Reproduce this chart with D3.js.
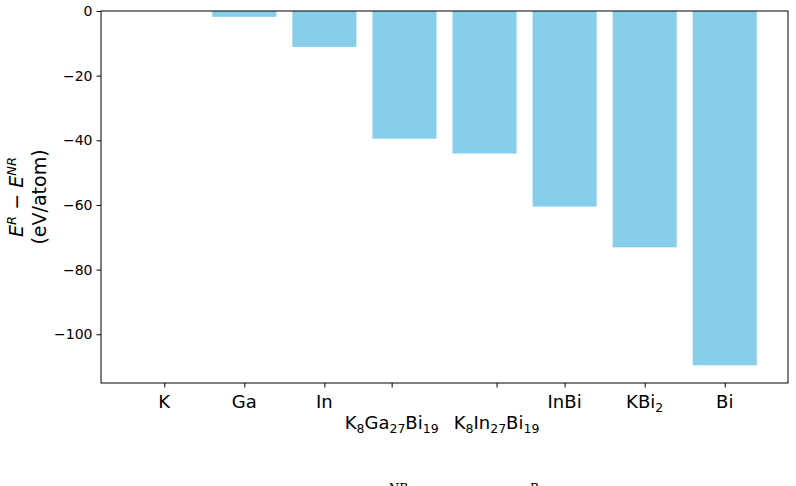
<!DOCTYPE html>
<html>
<head>
<meta charset="utf-8">
<script src="https://cdn.jsdelivr.net/npm/d3@7"></script>
<style>
  body { margin: 0; background: #fff; }
  svg { display: block; font-family: "DejaVu Sans", sans-serif; }
</style>
</head>
<body>
<div id="chart"></div>
<script>
// compounds, in plotting order
const materials = ["K", "Ga", "In", "K8Ga27Bi19", "K8In27Bi19", "InBi", "KBi2", "Bi"];
// E^R - E^NR per atom (eV/atom)
const deltaE = [0, -1.8, -11.1, -39.5, -44.1, -60.5, -73.1, -109.6];
// label pieces: [text, "sub" | ""]
const labelParts = [
  [["K", ""]],
  [["Ga", ""]],
  [["In", ""]],
  [["K", ""], ["8", "sub"], ["Ga", ""], ["27", "sub"], ["Bi", ""], ["19", "sub"]],
  [["K", ""], ["8", "sub"], ["In", ""], ["27", "sub"], ["Bi", ""], ["19", "sub"]],
  [["InBi", ""]],
  [["K", ""], ["Bi", ""], ["2", "sub"]],
  [["Bi", ""]]
];
// long labels were nudged sideways and put on a second row
const tickShift = [0, 0, 0, -0.16, 0.15, 0, 0, 0];
const labelRow = [0, 0, 0, 1, 1, 0, 0, 0];
const yTicks = [0, -20, -40, -60, -80, -100];

const width = 796, height = 486;
const margin = {top: 11, right: 8, bottom: 103, left: 101};
const iw = width - margin.left - margin.right;
const ih = height - margin.top - margin.bottom;

const svg = d3.select("#chart").append("svg")
  .attr("width", width).attr("height", height);
const g = svg.append("g").attr("transform", `translate(${margin.left},${margin.top})`);

// matplotlib-like linear x: bar i centred at i, 5% margins
const n = materials.length;
const pad = (n - 1 + 0.8) * 0.05;
const x = d3.scaleLinear().domain([-0.4 - pad, n - 1 + 0.4 + pad]).range([0, iw]);
const yMin = d3.min(deltaE) * 1.05;
const y = d3.scaleLinear().domain([yMin, 0]).range([ih, 0]);

// bars
g.selectAll("rect.bar")
  .data(deltaE)
  .join("rect")
    .attr("class", "bar")
    .attr("x", (d, i) => x(i - 0.4))
    .attr("width", x(0.8) - x(0))
    .attr("y", y(0))
    .attr("height", d => y(d) - y(0))
    .attr("fill", "#87ceeb");

// y axis
const yAxis = g.append("g")
  .call(d3.axisLeft(y).tickValues(yTicks).tickSize(4.5).tickPadding(4)
    .tickFormat(d => d === 0 ? "0" : "\u2212" + Math.abs(d)));
yAxis.select(".domain").remove();
yAxis.selectAll("line").attr("stroke", "#000").attr("stroke-width", 1);
yAxis.selectAll("text").attr("font-size", 14).attr("fill", "#000")
  .attr("font-family", "DejaVu Sans");

// x ticks
const xTickPos = materials.map((m, i) => i + tickShift[i]);
const xAxis = g.append("g").attr("transform", `translate(0,${ih})`)
  .call(d3.axisBottom(x).tickValues(xTickPos).tickSize(4.5).tickFormat(""));
xAxis.select(".domain").remove();
xAxis.selectAll("line").attr("stroke", "#000").attr("stroke-width", 1);

const xl = g.append("g").attr("font-size", 18).attr("text-anchor", "middle");
labelParts.forEach((parts, i) => {
  const t = xl.append("text")
    .attr("x", x(xTickPos[i]))
    .attr("y", ih + 25 + labelRow[i] * 21);
  parts.forEach(([s, kind], k) => {
    const prev = k > 0 ? parts[k - 1][1] : "";
    const sp = t.append("tspan").text(s);
    if (kind === "sub") sp.attr("font-size", 12.5).attr("dy", prev === "sub" ? 0 : 4);
    else if (prev === "sub") sp.attr("dy", -4);
  });
});

// frame
g.append("rect")
  .attr("width", iw).attr("height", ih)
  .attr("fill", "none").attr("stroke", "#000").attr("stroke-width", 1);

// y label, two lines
const yl = svg.append("g").attr("font-size", 19).attr("text-anchor", "middle")
  .attr("transform", `translate(0,${margin.top + ih / 2}) rotate(-90)`);
const l1 = yl.append("text").attr("x", 0).attr("y", 23);
l1.append("tspan").attr("font-style", "italic").text("E");
l1.append("tspan").attr("font-size", 13).attr("dy", -7).attr("font-style", "italic").text("R");
l1.append("tspan").attr("dy", 7).text(" \u2212 ");
l1.append("tspan").attr("font-style", "italic").text("E");
l1.append("tspan").attr("font-size", 13).attr("dy", -7).attr("font-style", "italic").text("NR");
yl.append("text").attr("x", 0).attr("y", 46).text("(eV/atom)");

// second x label row that falls off the bottom edge: only its superscripts peek in
const cut = svg.append("g").attr("font-family", "DejaVu Serif").attr("font-style", "italic")
  .attr("font-size", 12).attr("text-anchor", "middle");
cut.append("text").attr("x", 398).attr("y", 493).text("NR");
cut.append("text").attr("x", 534).attr("y", 493).text("R");
</script>
</body>
</html>
